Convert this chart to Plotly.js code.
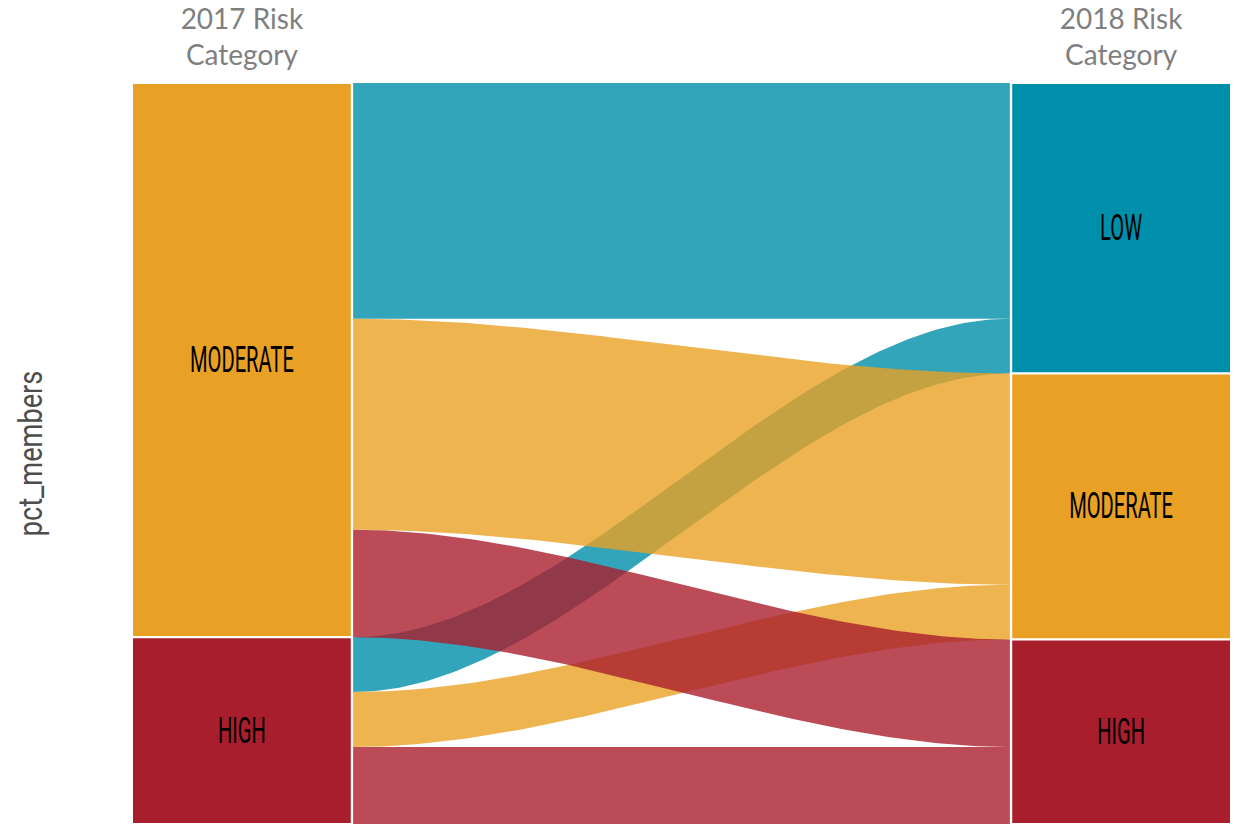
<!DOCTYPE html>
<html><head><meta charset="utf-8">
<script src="https://cdn.plot.ly/plotly-3.0.1.min.js"></script>
<style>html,body{margin:0;padding:0;background:#fff}</style>
</head><body><div id="chart" style="width:1238px;height:824px"></div>
<script>
// ---- data ----
const axisLabels = ["2017 Risk<br>Category", "2018 Risk<br>Category"];
const categories2017 = ["MODERATE", "HIGH"];
const categories2018 = ["LOW", "MODERATE", "HIGH"];
const flowFrom = ["MODERATE", "MODERATE", "MODERATE", "HIGH", "HIGH", "HIGH"];
const flowTo   = ["LOW", "MODERATE", "HIGH", "LOW", "MODERATE", "HIGH"];
const flowPct  = [31.8, 28.5, 14.5, 7.4, 7.4, 10.4];
const yTitle = "pct_members";

// ---- styles ----
const catColors = {LOW: "#008FAA", MODERATE: "#E8A124", HIGH: "#A91E2D"};
const flowOpacity = 0.8;
const stratumWidth = 0.25;
const flowGap = 0.0015;
const knot = 1 / 3;
const labelFont = "Roboto, sans-serif";
const labelCondense = 0.56;
const titleCondense = 0.8;

function hexToRgba(hex, a) {
  const r = parseInt(hex.slice(1, 3), 16), g = parseInt(hex.slice(3, 5), 16), b = parseInt(hex.slice(5, 7), 16);
  return `rgba(${r},${g},${b},${a})`;
}

const total = flowPct.reduce((s, v) => s + v, 0);

function stratumSizes(cats, key) {
  return cats.map(c => flowPct.reduce((s, v, i) => s + (key[i] === c ? v : 0), 0));
}
const leftSizes = stratumSizes(categories2017, flowFrom);
const rightSizes = stratumSizes(categories2018, flowTo);

function stack(sizes) {
  let top = total; const bases = [];
  sizes.forEach(s => { bases.push(top - s); top -= s; });
  return bases;
}
const leftBases = stack(leftSizes);
const rightBases = stack(rightSizes);

const idxL = flowPct.map((_, i) => i).sort((a, b) =>
  categories2017.indexOf(flowFrom[a]) - categories2017.indexOf(flowFrom[b]) ||
  categories2018.indexOf(flowTo[a]) - categories2018.indexOf(flowTo[b]));
const idxR = flowPct.map((_, i) => i).sort((a, b) =>
  categories2018.indexOf(flowTo[a]) - categories2018.indexOf(flowTo[b]) ||
  categories2017.indexOf(flowFrom[a]) - categories2017.indexOf(flowFrom[b]));
const leftTop = [], rightTop = [];
let cur = total; idxL.forEach(i => { leftTop[i] = cur; cur -= flowPct[i]; });
cur = total; idxR.forEach(i => { rightTop[i] = cur; cur -= flowPct[i]; });

const x0 = 1 + stratumWidth / 2 + flowGap, x1 = 2 - stratumWidth / 2 - flowGap;
function bez(ya, yb, n) {
  const pts = [];
  const cx1 = x0 + knot * (x1 - x0), cx2 = x1 - knot * (x1 - x0);
  for (let k = 0; k <= n; k++) {
    const t = k / n, u = 1 - t;
    const x = u*u*u*x0 + 3*u*u*t*cx1 + 3*u*t*t*cx2 + t*t*t*x1;
    const y = u*u*u*ya + 3*u*u*t*ya + 3*u*t*t*yb + t*t*t*yb;
    pts.push([x, y]);
  }
  return pts;
}

const traces = [];
const drawOrder = flowPct.map((_, i) => i).sort((a, b) =>
  categories2018.indexOf(flowTo[a]) - categories2018.indexOf(flowTo[b]) ||
  categories2017.indexOf(flowFrom[a]) - categories2017.indexOf(flowFrom[b]));
drawOrder.forEach(i => {
  const top = bez(leftTop[i], rightTop[i], 100);
  const bot = bez(leftTop[i] - flowPct[i], rightTop[i] - flowPct[i], 100).reverse();
  const pts = top.concat(bot);
  traces.push({
    type: "scatter", mode: "lines",
    x: pts.map(p => p[0]), y: pts.map(p => p[1]),
    fill: "toself", fillcolor: hexToRgba(catColors[flowTo[i]], flowOpacity),
    line: {width: 0, color: "rgba(0,0,0,0)"},
    hoverinfo: "skip", showlegend: false
  });
});

function stratumTrace(xpos, cats, sizes, bases) {
  return {
    type: "bar", x: cats.map(() => xpos), y: sizes, base: bases, width: stratumWidth,
    marker: {color: cats.map(c => catColors[c]), line: {color: "#ffffff", width: 2}},
    text: cats, textposition: "inside", insidetextanchor: "middle", textangle: 0,
    constraintext: "none",
    textfont: {family: labelFont, size: 36, color: "#000000"},
    hoverinfo: "skip", showlegend: false
  };
}
traces.push(stratumTrace(1, categories2017, leftSizes, leftBases));
traces.push(stratumTrace(2, categories2018, rightSizes, rightBases));

const layout = {
  width: 1238, height: 824,
  margin: {l: 132, r: 7, t: 83, b: 0},
  paper_bgcolor: "#ffffff", plot_bgcolor: "#ffffff",
  barmode: "overlay",
  showlegend: false,
  xaxis: {
    range: [1 - 0.125, 2 + 0.125], side: "top",
    tickvals: [1, 2], ticktext: axisLabels, ticks: "", ticklabelstandoff: 11,
    tickfont: {family: "Lato, Open Sans, sans-serif", size: 28, color: "#7f7f7f"},
    showgrid: false, zeroline: false, showline: false, fixedrange: true
  },
  yaxis: {
    range: [0, total], showticklabels: false, ticks: "",
    showgrid: false, zeroline: false, showline: false, fixedrange: true,
    title: {text: yTitle, standoff: 78, font: {family: labelFont, size: 34, color: "#4d4d4d"}}
  }
};

function condense(el, sx) {
  const bb = el.getBBox();
  const cx = bb.x + bb.width / 2, cy = bb.y + bb.height / 2;
  const tr = el.getAttribute("transform") || "";
  el.setAttribute("transform", `${tr} translate(${cx},${cy}) scale(${sx},1) translate(${-cx},${-cy})`);
}

Plotly.newPlot("chart", traces, layout, {displayModeBar: false, staticPlot: true}).then(gd => {
  gd.querySelectorAll("text.bartext").forEach(t => condense(t, labelCondense));
  gd.querySelectorAll(".g-ytitle text").forEach(t => condense(t, titleCondense));
});
</script>
</body></html>
